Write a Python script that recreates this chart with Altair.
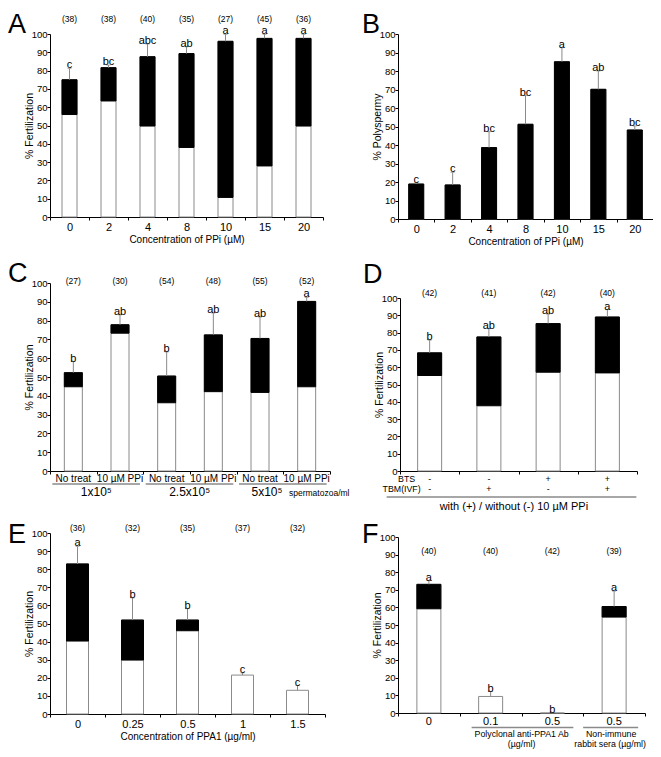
import altair as alt
import pandas as pd

FONT = "Liberation Sans"
W, H = 645, 741
GRAY = "#8a8a8a"

# ---------------- data ----------------
A_conc = ["0", "2", "4", "8", "10", "15", "20"]
A_total = [75, 81.6, 87.6, 89.3, 96, 97.6, 97.6]
A_mono = [56, 63.4, 49.7, 38, 10.7, 27.9, 49.7]
A_err = [81.2, 83, 94.5, 93, 99.8, 99.8, 99.8]
A_sig = ["c", "bc", "abc", "ab", "a", "a", "a"]
A_n = ["(38)", "(38)", "(40)", "(35)", "(27)", "(45)", "(36)"]

B_conc = ["0", "2", "4", "8", "10", "15", "20"]
B_poly = [18.9, 18.4, 38.6, 51.2, 85, 70.1, 48.1]
B_err = [19.5, 25.2, 47.2, 66.7, 92.6, 80, 50.3]
B_sig = ["c", "c", "bc", "bc", "a", "ab", "bc"]

C_ids = ["C1", "C2", "C3", "C4", "C5", "C6"]
C_treat = ["No treat", "10 µM PPi", "No treat", "10 µM PPi", "No treat", "10 µM PPi"]
C_total = [52.3, 77.8, 50.5, 72.4, 70.5, 90.2]
C_mono = [44.8, 73.3, 36.3, 42.2, 41.8, 44.8]
C_err = [58.2, 83.1, 63.3, 84, 81.9, 92.3]
C_sig = ["b", "ab", "b", "ab", "ab", "a"]
C_n = ["(27)", "(30)", "(54)", "(48)", "(55)", "(52)"]
C_dose = ["1x10⁵", "2.5x10⁵", "5x10⁵"]
C_unit = ["spermatozoa/ml"]

D_ids = ["D1", "D2", "D3", "D4"]
D_bts = ["-", "-", "+", "+"]
D_tbm = ["-", "+", "-", "+"]
D_rows = ["BTS", "TBM(IVF)"]
D_total = [68.3, 77.5, 85.2, 89]
D_mono = [55.2, 37.7, 57.1, 56.7]
D_err = [75.6, 82.3, 90.6, 93.3]
D_sig = ["b", "ab", "ab", "a"]
D_n = ["(42)", "(41)", "(42)", "(40)"]
D_note = ["with (+) / without (-) 10 µM PPi"]

E_conc = ["0", "0.25", "0.5", "1", "1.5"]
E_total = [82.9, 51.9, 51.9, 21.5, 13.1]
E_mono = [40.3, 29.8, 46, 21.5, 13.1]
E_err = [92.6, 64.1, 58.2, 22.7, 15.7]
E_sig = ["a", "b", "b", "c", "c"]
E_n = ["(36)", "(32)", "(35)", "(37)", "(32)"]

F_ids = ["F1", "F2", "F3", "F4"]
F_conc = ["0", "0.1", "0.5", "0.5"]
F_total = [73.1, 9.4, 0, 60.5]
F_mono = [59.2, 9.4, 0, 54.5]
F_err = [75.2, 12.2, 0, 69.2]
F_sig = ["a", "b", "b", "a"]
F_n = ["(40)", "(40)", "(42)", "(39)"]
F_grp1 = ["Polyclonal anti-PPA1 Ab", "(µg/ml)"]
F_grp2 = ["Non-immune", "rabbit sera (µg/ml)"]


class Panel:
    def __init__(self, cats, xr, yr):
        self.xs = alt.Scale(domain=list(cats), range=list(xr), paddingInner=0, paddingOuter=0)
        self.ys = alt.Scale(domain=[0, 100], range=list(yr), nice=False, zero=True)
        self.xr = xr
        self.yr = yr

    def X(self, f="cat:N", axis=None):
        return alt.X(f, scale=self.xs, axis=axis)

    def Y(self, f, axis=None):
        return alt.Y(f, scale=self.ys, axis=axis)

    def YD(self, v):
        return alt.YDatum(v, type="quantitative", scale=self.ys, axis=None)

    def text(self, df, field, ydatum, **mk):
        mk.setdefault("baseline", "middle")
        return alt.Chart(df).mark_text(font=FONT, color="black", **mk).encode(
            x=self.X(), y=self.YD(ydatum), text=field)

    def uline(self, df, **mk):
        return alt.Chart(df).mark_rule(stroke=GRAY, strokeWidth=1.5, **mk).encode(
            x=self.X(), x2="cat2:N", y=self.YD(0))


def panel(cats, total, mono, err, sig, n, n_y, xr, yr, barw, xtitle, xlabels,
          ytitle, letter, lxy, extras_fn=None):
    P = Panel(cats, xr, yr)
    df = pd.DataFrame({"cat": cats, "total": total, "mono": mono, "err": err, "sig": sig})
    df["top"] = [max(a, b) for a, b in zip(total, err)]
    if n is not None:
        df["n"] = n
    xaxis = alt.Axis(orient="bottom", offset=yr[0] - H, tickBand="extent", labelAngle=0,
                     labelFontSize=11, labelPadding=1, tickSize=3, labels=xlabels,
                     domainColor="black", tickColor="black", grid=False,
                     title=xtitle, titleFontSize=10, titlePadding=2,
                     titleFontWeight="normal")
    yaxis = alt.Axis(orient="left", offset=-xr[0], values=list(range(0, 101, 10)),
                     title=ytitle, tickSize=3, labelPadding=0, labelFontSize=9.5,
                     labelOverlap=False, domainColor="black", tickColor="black",
                     grid=False, titleFontSize=10.5, titlePadding=-3,
                     titleFontWeight="normal")
    base = alt.Chart(df)
    layers = []
    layers.append(base.mark_bar(width=barw, fill="white", stroke=GRAY, strokeWidth=1).encode(
        x=P.X(axis=xaxis), y=P.Y("total:Q", axis=yaxis)))
    layers.append(base.transform_filter("datum.total > datum.mono").mark_bar(
        width=barw, fill="black", stroke="black", strokeWidth=1).encode(
        x=P.X(), y=P.Y("mono:Q"), y2="total:Q"))
    layers.append(base.transform_filter("datum.err > datum.total").mark_rule(
        stroke=GRAY, strokeWidth=1).encode(x=P.X(), y=P.Y("total:Q"), y2="err:Q"))
    layers.append(base.transform_filter("datum.err > datum.total").mark_tick(
        orient="horizontal", size=4, thickness=1, color=GRAY).encode(
        x=P.X(), y=P.Y("err:Q")))
    layers.append(base.mark_text(font=FONT, fontSize=11, baseline="alphabetic", dy=0,
                                 color="black").encode(
        x=P.X(), y=P.Y("top:Q"), text="sig:N"))
    if n is not None:
        layers.append(P.text(df, "n:N", n_y, fontSize=8.5))
    layers.append(alt.Chart(pd.DataFrame({"t": [letter]})).mark_text(
        font=FONT, color="black", fontSize=27, align="left", baseline="alphabetic").encode(
        text="t:N", x=alt.value(lxy[0]), y=alt.value(lxy[1])))
    if extras_fn is not None:
        layers += extras_fn(P)
    return layers


def c_extras(P):
    out = []
    sub = pd.DataFrame({"cat": C_ids, "lab": C_treat})
    out.append(P.text(sub, "lab:N", 0, fontSize=10, dy=8))
    grp = pd.DataFrame({"cat": C_ids[0::2], "cat2": C_ids[1::2], "lab": C_dose})
    out.append(P.uline(grp, xOffset=-21, x2Offset=20, yOffset=13))
    out.append(P.text(grp.iloc[:2], "lab:N", 0, fontSize=12, dy=21, dx=23))
    out.append(P.text(grp.iloc[2:], "lab:N", 0, fontSize=12, dy=21, dx=7))
    unit = pd.DataFrame({"cat": [C_ids[4]], "lab": C_unit})
    out.append(P.text(unit, "lab:N", 0, fontSize=8.5, align="left", dy=22, dx=29))
    return out


def d_extras(P):
    out = []
    sg = pd.DataFrame({"cat": D_ids, "bts": D_bts, "tbm": D_tbm})
    out.append(P.text(sg, "bts:N", 0, fontSize=8.8, dy=7.5))
    out.append(P.text(sg, "tbm:N", 0, fontSize=8.8, dy=17.8))
    r1 = pd.DataFrame({"cat": [D_ids[0]], "lab": [D_rows[0]]})
    r2 = pd.DataFrame({"cat": [D_ids[0]], "lab": [D_rows[1]]})
    out.append(P.text(r1, "lab:N", 0, fontSize=8.8, dy=7.5, dx=-23))
    out.append(P.text(r2, "lab:N", 0, fontSize=8.8, dy=17.8, dx=-28))
    ul = pd.DataFrame({"cat": [D_ids[0]], "cat2": [D_ids[-1]]})
    out.append(P.uline(ul, xOffset=-43, x2Offset=29, yOffset=26))
    nt = pd.DataFrame({"cat": [D_ids[1]], "lab": D_note})
    out.append(P.text(nt, "lab:N", 0, fontSize=11, dy=36, dx=25))
    return out


def f_extras(P):
    out = []
    tl = pd.DataFrame({"cat": F_ids, "lab": F_conc})
    out.append(P.text(tl, "lab:N", 0, fontSize=11, dy=8.5))
    ul = pd.DataFrame({"cat": [F_ids[1]], "cat2": [F_ids[2]]})
    out.append(P.uline(ul, xOffset=-19, x2Offset=21, yOffset=14.5))
    ul2 = pd.DataFrame({"cat": [F_ids[3]], "cat2": [F_ids[3]]})
    out.append(P.uline(ul2, xOffset=-31, x2Offset=24, yOffset=14.5))
    g1a = pd.DataFrame({"cat": [F_ids[1]], "lab": [F_grp1[0]]})
    g1b = pd.DataFrame({"cat": [F_ids[1]], "lab": [F_grp1[1]]})
    g2a = pd.DataFrame({"cat": [F_ids[3]], "lab": [F_grp2[0]]})
    g2b = pd.DataFrame({"cat": [F_ids[3]], "lab": [F_grp2[1]]})
    out.append(P.text(g1a, "lab:N", 0, fontSize=8.8, dy=20.5, dx=31))
    out.append(P.text(g1b, "lab:N", 0, fontSize=8.8, dy=30.5, dx=31))
    out.append(P.text(g2a, "lab:N", 0, fontSize=8.8, dy=20.5, dx=-3))
    out.append(P.text(g2b, "lab:N", 0, fontSize=8.8, dy=30.5, dx=-4))
    return out


layers = []
layers += panel(A_conc, A_total, A_mono, A_err, A_sig, A_n, 108.2,
                (42, 315), (209, 26), 15, "Concentration of PPi (µM)", True,
                "% Fertilization", "A", (0, 25))
layers += panel(B_conc, B_poly, [0] * len(B_poly), B_err, B_sig, None, None,
                (390, 645), (211, 26), 15, "Concentration of PPi (µM)", True,
                "% Polyspermy", "B", (354, 25))
layers += panel(C_ids, C_total, C_mono, C_err, C_sig, C_n, 101,
                (42, 322), (463, 275), 18, None, False,
                "% Fertilization", "C", (0, 274), c_extras)
layers += panel(D_ids, D_total, D_mono, D_err, D_sig, D_n, 103,
                (392, 629), (463, 290), 24, None, False,
                "% Fertilization", "D", (355, 275), d_extras)
layers += panel(E_conc, E_total, E_mono, E_err, E_sig, E_n, 102.8,
                (42, 317), (706, 525), 22, "Concentration of PPA1 (µg/ml)", True,
                "% Fertilization", "E", (0, 535))
layers += panel(F_ids, F_total, F_mono, F_err, F_sig, F_n, 92,
                (390, 637), (705, 529), 24, None, False,
                "% Fertilization", "F", (354, 535), f_extras)

chart = alt.layer(*layers).resolve_scale(
    x="independent", y="independent"
).properties(
    width=W, height=H, padding=0, autosize=alt.AutoSizeParams(type="none")
).configure_view(stroke=None).configure_axis(
    labelFont=FONT, titleFont=FONT, labelColor="black", titleColor="black"
)

chart.save("out.html", embed_options={"renderer": "svg", "actions": False})
